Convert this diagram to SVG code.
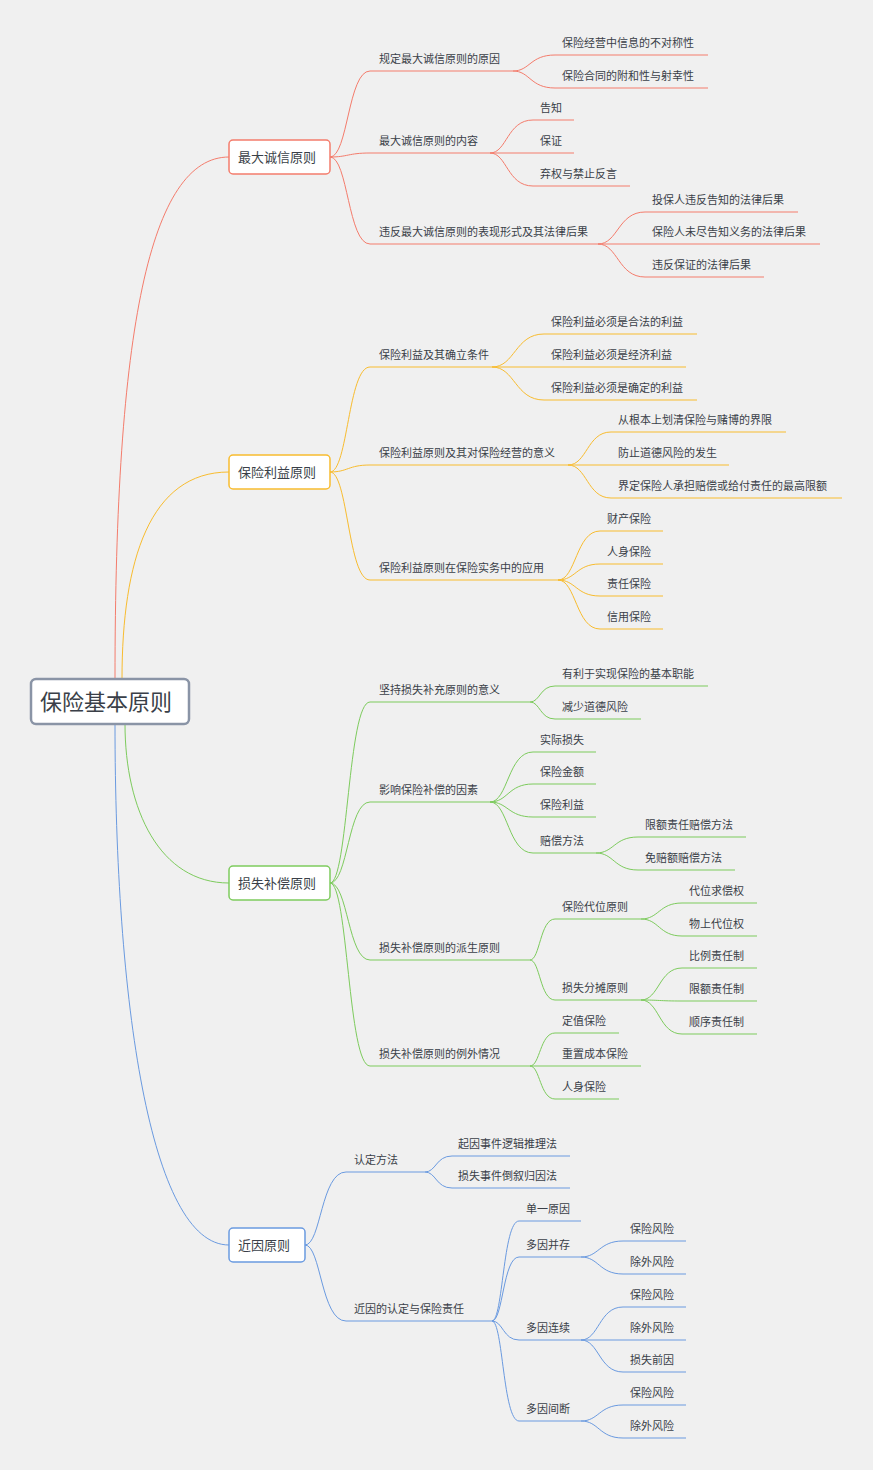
<svg xmlns="http://www.w3.org/2000/svg" width="873" height="1470" viewBox="0 0 873 1470">
<style>
text{font-family:"Noto Sans CJK SC","Liberation Sans",sans-serif;fill:#3a3f48;font-size:11px}
.t1{font-size:13px}
.c path,.u{fill:none;stroke-width:1}
.r{stroke:#f47c6c}.y{stroke:#f8bc2f}.g{stroke:#7dcb5d}.b{stroke:#6a9ae0}
.main{fill:none;stroke-width:2.5}
.box{fill:#fff;stroke-width:1.5}
</style>
<rect width="873" height="1470" fill="#f0f0f0"/>
<g id="connectors" class="c">
<path class="main r" d="M115,679 C115,330 150,157 229,157"/>
<path class="main y" d="M122,679 C122,560 150,472 229,472"/>
<path class="main g" d="M125,724 C125,810 160,883 229,883"/>
<path class="main b" d="M115,724 C115,1000 150,1245 229,1245"/>
<g class="r">
<path d="M330,157 C348,157 348,71 370,71 M330,157 C348,157 348,153 370,153 M330,157 C348,157 348,244 370,244"/>
<path d="M513,71 C530,71 530,55 555,55 M513,71 C530,71 530,88 555,88"/>
<path d="M490,153 C507,153 507,120 533,120 M490,153 H533 M490,153 C507,153 507,186 533,186"/>
<path d="M598,244 C618,244 618,212 645,212 M598,244 H645 M598,244 C618,244 618,277 645,277"/>
</g>
<g class="y">
<path d="M330,472 C348,472 348,367 370,367 M330,472 C348,472 348,465 370,465 M330,472 C348,472 348,580 370,580"/>
<path d="M492,367 C515,367 515,334 544,334 M492,367 H544 M492,367 C515,367 515,400 544,400"/>
<path d="M568,465 C587,465 587,432 611,432 M568,465 H611 M568,465 C587,465 587,498 611,498"/>
<path d="M558,580 C576,580 576,531 600,531 M558,580 C576,580 576,564 600,564 M558,580 C576,580 576,596 600,596 M558,580 C576,580 576,629 600,629"/>
</g>
<g class="g">
<path d="M330,883 C348,883 348,702 370,702 M330,883 C348,883 348,802 370,802 M330,883 C348,883 348,960 370,960 M330,883 C348,883 348,1066 370,1066"/>
<path d="M530,702 C540,702 540,686 555,686 M530,702 C540,702 540,719 555,719"/>
<path d="M490,802 C508,802 508,752 533,752 M490,802 C508,802 508,784 533,784 M490,802 C508,802 508,817 533,817 M490,802 C508,802 508,853 533,853"/>
<path d="M596,853 C614,853 614,837 638,837 M596,853 C614,853 614,870 638,870"/>
<path d="M530,960 C540,960 540,919 555,919 M530,960 C540,960 540,1000 555,1000"/>
<path d="M641,919 C659,919 659,903 682,903 M641,919 C659,919 659,936 682,936"/>
<path d="M641,1000 C659,1000 659,968 682,968 M641,1000 C659,1000 659,1001 682,1001 M641,1000 C659,1000 659,1034 682,1034"/>
<path d="M530,1066 C540,1066 540,1033 555,1033 M530,1066 H555 M530,1066 C540,1066 540,1099 555,1099"/>
</g>
<g class="b">
<path d="M305,1245 C321,1245 321,1172 346,1172 M305,1245 C321,1245 321,1321 346,1321"/>
<path d="M425,1172 C436,1172 436,1156 452,1156 M425,1172 C436,1172 436,1188 452,1188"/>
<path d="M492,1321 C503,1321 503,1221 519,1221 M492,1321 C503,1321 503,1257 519,1257 M492,1321 C503,1321 503,1340 519,1340 M492,1321 C503,1321 503,1421 519,1421"/>
<path d="M581,1257 C599,1257 599,1241 623,1241 M581,1257 C599,1257 599,1274 623,1274"/>
<path d="M581,1340 C599,1340 599,1307 623,1307 M581,1340 H623 M581,1340 C599,1340 599,1372 623,1372"/>
<path d="M581,1421 C599,1421 599,1405 623,1405 M581,1421 C599,1421 599,1438 623,1438"/>
</g>
</g>
<g id="root"><rect x="31" y="679" width="158" height="45" rx="5" fill="#fff" stroke="#8a94a6" stroke-width="2.5"/><text x="40" y="710" style="font-size:22px">保险基本原则</text></g>
<g id="n-A"><rect class="box r" x="229" y="140" width="101" height="34" rx="4"/><text class="t1" x="238" y="162">最大诚信原则</text></g>
<g id="n-B"><rect class="box y" x="229" y="455" width="101" height="34" rx="4"/><text class="t1" x="238" y="477">保险利益原则</text></g>
<g id="n-C"><rect class="box g" x="229" y="866" width="101" height="34" rx="4"/><text class="t1" x="238" y="888">损失补偿原则</text></g>
<g id="n-D"><rect class="box b" x="229" y="1228" width="76" height="34" rx="4"/><text class="t1" x="238" y="1250">近因原则</text></g>
<g id="leaves-A">
<path class="u r" d="M370,71H513 M555,55H708 M555,88H708 M370,153H490 M533,120H574 M533,153H574 M533,186H630 M370,244H598 M645,212H798 M645,244H820 M645,277H764"/>
<text x="379" y="63">规定最大诚信原则的原因</text>
<text x="562" y="47">保险经营中信息的不对称性</text>
<text x="562" y="80">保险合同的附和性与射幸性</text>
<text x="379" y="145">最大诚信原则的内容</text>
<text x="540" y="112">告知</text>
<text x="540" y="145">保证</text>
<text x="540" y="178">弃权与禁止反言</text>
<text x="379" y="236">违反最大诚信原则的表现形式及其法律后果</text>
<text x="652" y="204">投保人违反告知的法律后果</text>
<text x="652" y="236">保险人未尽告知义务的法律后果</text>
<text x="652" y="269">违反保证的法律后果</text>
</g>
<g id="leaves-B">
<path class="u y" d="M370,367H492 M544,334H697 M544,367H686 M544,400H697 M370,465H568 M611,432H786 M611,465H729 M611,498H842 M370,580H558 M600,531H663 M600,564H663 M600,596H663 M600,629H663"/>
<text x="379" y="359">保险利益及其确立条件</text>
<text x="551" y="326">保险利益必须是合法的利益</text>
<text x="551" y="359">保险利益必须是经济利益</text>
<text x="551" y="392">保险利益必须是确定的利益</text>
<text x="379" y="457">保险利益原则及其对保险经营的意义</text>
<text x="618" y="424">从根本上划清保险与赌博的界限</text>
<text x="618" y="457">防止道德风险的发生</text>
<text x="618" y="490">界定保险人承担赔偿或给付责任的最高限额</text>
<text x="379" y="572">保险利益原则在保险实务中的应用</text>
<text x="607" y="523">财产保险</text>
<text x="607" y="556">人身保险</text>
<text x="607" y="588">责任保险</text>
<text x="607" y="621">信用保险</text>
</g>
<g id="leaves-C">
<path class="u g" d="M370,702H530 M555,686H708 M555,719H641 M370,802H490 M533,752H596 M533,784H596 M533,817H596 M533,853H596 M638,837H746 M638,870H735 M370,960H530 M555,919H641 M555,1000H641 M682,903H757 M682,936H757 M682,968H757 M682,1001H757 M682,1034H757 M370,1066H530 M555,1033H619 M555,1066H641 M555,1099H619"/>
<text x="379" y="694">坚持损失补充原则的意义</text>
<text x="562" y="678">有利于实现保险的基本职能</text>
<text x="562" y="711">减少道德风险</text>
<text x="379" y="794">影响保险补偿的因素</text>
<text x="540" y="744">实际损失</text>
<text x="540" y="776">保险金额</text>
<text x="540" y="809">保险利益</text>
<text x="540" y="845">赔偿方法</text>
<text x="645" y="829">限额责任赔偿方法</text>
<text x="645" y="862">免赔额赔偿方法</text>
<text x="379" y="952">损失补偿原则的派生原则</text>
<text x="562" y="911">保险代位原则</text>
<text x="562" y="992">损失分摊原则</text>
<text x="689" y="895">代位求偿权</text>
<text x="689" y="928">物上代位权</text>
<text x="689" y="960">比例责任制</text>
<text x="689" y="993">限额责任制</text>
<text x="689" y="1026">顺序责任制</text>
<text x="379" y="1058">损失补偿原则的例外情况</text>
<text x="562" y="1025">定值保险</text>
<text x="562" y="1058">重置成本保险</text>
<text x="562" y="1091">人身保险</text>
</g>
<g id="leaves-D">
<path class="u b" d="M346,1172H425 M452,1156H570 M452,1188H570 M346,1321H492 M519,1221H581 M519,1257H581 M519,1340H581 M519,1421H581 M623,1241H686 M623,1274H686 M623,1307H686 M623,1340H686 M623,1372H686 M623,1405H686 M623,1438H686"/>
<text x="354" y="1164">认定方法</text>
<text x="458" y="1148">起因事件逻辑推理法</text>
<text x="458" y="1180">损失事件倒叙归因法</text>
<text x="354" y="1313">近因的认定与保险责任</text>
<text x="526" y="1213">单一原因</text>
<text x="526" y="1249">多因并存</text>
<text x="526" y="1332">多因连续</text>
<text x="526" y="1413">多因间断</text>
<text x="630" y="1233">保险风险</text>
<text x="630" y="1266">除外风险</text>
<text x="630" y="1299">保险风险</text>
<text x="630" y="1332">除外风险</text>
<text x="630" y="1364">损失前因</text>
<text x="630" y="1397">保险风险</text>
<text x="630" y="1430">除外风险</text>
</g>
</svg>
